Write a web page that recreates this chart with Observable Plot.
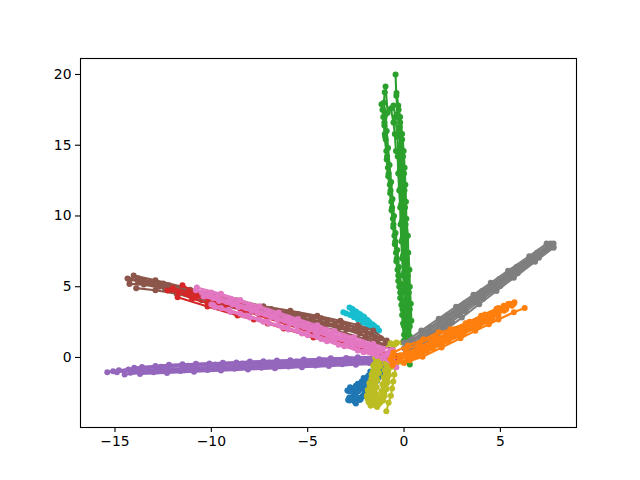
<!DOCTYPE html>
<html><head><meta charset="utf-8">
<script src="https://cdn.jsdelivr.net/npm/d3@7"></script>
<script src="https://cdn.jsdelivr.net/npm/@observablehq/plot@0.6"></script>
<style>html,body{margin:0;padding:0;background:#fff}svg{display:block}</style>
</head><body><div id="chart"></div>
<script>
const cyanTraces = [
 [[-2.83,3.53],[-2.65,3.38],[-2.45,3.2],[-2.25,3],[-2.05,2.8],[-1.8,2.5],[-1.55,2.25],[-1.3,1.9]],
 [[-3.15,3.2],[-3,3.1],[-2.8,3],[-2.6,2.85],[-2.4,2.7],[-2.15,2.45],[-1.9,2.2],[-1.6,1.95]],
 [[-2.7,3.45],[-2.5,3.25],[-2.3,3.08],[-2.1,2.9],[-1.9,2.65],[-1.65,2.35],[-1.4,2.1]],
 [[-2.7,3.1],[-2.45,2.9],[-2.2,2.7],[-1.95,2.45],[-1.7,2.15],[-1.45,1.85]]
];
const blueTraces = [
 [[-1.0,-0.6],[-1.3,-1.0],[-1.6,-1.4],[-1.9,-1.75],[-2.2,-2.1],[-2.5,-2.5],[-2.65,-2.75],[-2.83,-3.04]],
 [[-1.1,-0.4],[-1.5,-0.9],[-1.85,-1.3],[-2.2,-1.7],[-2.5,-2.0],[-2.75,-2.18],[-2.94,-2.33]],
 [[-1.0,-0.9],[-1.3,-1.4],[-1.6,-1.9],[-1.85,-2.3],[-2.15,-2.75],[-2.3,-3],[-2.5,-3.25]],
 [[-1.3,-0.7],[-1.65,-1.2],[-2.0,-1.65],[-2.3,-2.2],[-2.6,-2.65],[-2.85,-2.85]],
 [[-1.2,-0.9],[-1.45,-1.25],[-1.75,-1.6],[-2.05,-2],[-2.35,-2.35],[-2.6,-2.25],[-2.8,-2.1]],
 [[-1.1,-1.2],[-1.4,-1.65],[-1.7,-2.05],[-1.95,-2.55],[-2.25,-2.95],[-2.6,-3.05]],
 [[-1.4,-0.5],[-1.75,-1.0],[-2.1,-1.45],[-2.4,-1.85],[-2.7,-2.3]],
 [[-1.5,-1.2],[-1.8,-1.55],[-2.1,-1.95],[-2.4,-2.4],[-2.7,-2.85],[-2.9,-3]],
 [[-1.5,-1.6],[-1.8,-2],[-2.05,-2.4],[-2.35,-2.85],[-2.55,-3.15]],
 [[-1.7,-1.1],[-2,-1.5],[-2.3,-1.9],[-2.6,-2.2],[-2.85,-2.4]]
];
const purpleTraces = [
 [[-1,0.1],[-2.4,0.02],[-3.8,-0.06],[-5.2,-0.14],[-6.6,-0.21],[-8,-0.29],[-9.4,-0.37],[-10.8,-0.44],[-12.2,-0.52],[-13.6,-0.68],[-15.4,-1.05]],
 [[-1.4,0.05],[-3,-0.04],[-4.4,-0.12],[-5.9,-0.2],[-7.3,-0.27],[-8.7,-0.35],[-10.1,-0.42],[-11.5,-0.48],[-12.9,-0.6],[-14,-0.72]],
 [[-1.7,-0.09],[-3.1,-0.17],[-4.5,-0.25],[-5.9,-0.32],[-7.3,-0.4],[-8.7,-0.48],[-10.1,-0.56],[-11.5,-0.63],[-12.9,-0.71],[-14.3,-0.85],[-15.1,-0.98]],
 [[-1.4,-0.05],[-2.8,-0.13],[-4.2,-0.2],[-5.6,-0.28],[-7,-0.36],[-8.4,-0.43],[-9.8,-0.5],[-11.2,-0.58],[-12.6,-0.66],[-14,-0.78],[-14.8,-0.9]],
 [[-1.2,-0.22],[-2.6,-0.3],[-4,-0.37],[-5.4,-0.45],[-6.8,-0.53],[-8.2,-0.61],[-9.6,-0.69],[-11,-0.77],[-12.4,-0.84],[-13.8,-0.92],[-14.9,-1.05]],
 [[-2,-0.2],[-3.5,-0.29],[-5,-0.38],[-6.5,-0.47],[-8,-0.56],[-9.5,-0.65],[-11,-0.74],[-12.5,-0.83],[-14,-0.94]],
 [[-1.8,-0.4],[-3.2,-0.48],[-4.6,-0.56],[-6,-0.64],[-7.4,-0.72],[-8.8,-0.8],[-10.2,-0.88],[-11.6,-0.96],[-13,-1.04],[-14.5,-1.2]],
 [[-1.5,-0.32],[-3,-0.41],[-4.4,-0.49],[-5.8,-0.57],[-7.2,-0.65],[-8.6,-0.73],[-10,-0.82],[-11.4,-0.9],[-12.8,-0.98],[-14.2,-1.08]],
 [[-1.1,-0.44],[-2.5,-0.52],[-3.9,-0.61],[-5.3,-0.69],[-6.7,-0.77],[-8.1,-0.85],[-9.5,-0.93],[-10.9,-1.01],[-12.3,-1.09],[-13.7,-1.17]]
];
const brownTraces = [
 [[-0.9,1.2],[-1.6,1.9],[-2.4,2.3],[-3.3,2.6],[-4.5,2.95],[-5.9,3.3],[-7.3,3.62],[-8.7,4.05],[-10.1,4.5],[-11.5,5.0],[-12.9,5.45],[-14.03,5.8]],
 [[-1.2,1.35],[-2,1.95],[-2.9,2.3],[-4,2.65],[-5.2,2.95],[-6.6,3.3],[-8,3.72],[-9.4,4.15],[-10.8,4.6],[-12.2,5.1],[-13.5,5.45],[-14.35,5.58]],
 [[-1.5,1.45],[-2.3,2.08],[-3.2,2.42],[-4.3,2.78],[-5.5,3.08],[-6.9,3.42],[-8.3,3.82],[-9.7,4.3],[-11.1,4.78],[-12.5,5.22],[-13.8,5.6]],
 [[-0.8,1],[-1.7,1.6],[-2.6,2],[-3.6,2.35],[-4.8,2.7],[-6.2,3.05],[-7.6,3.45],[-9,3.9],[-10.4,4.35],[-11.8,4.8],[-13,5.2],[-14.25,5.5]],
 [[-1.4,1.1],[-2.3,1.72],[-3.3,2.12],[-4.4,2.5],[-5.8,2.88],[-7.2,3.28],[-8.6,3.7],[-10,4.15],[-11.4,4.62],[-12.7,5],[-13.8,5.3]],
 [[-1,0.9],[-2,1.5],[-3,1.95],[-4.1,2.3],[-5.5,2.7],[-6.9,3.1],[-8.3,3.55],[-9.7,4],[-11.1,4.45],[-12.4,4.85],[-13.5,5.15],[-14.25,5.2]],
 [[-0.6,0.6],[-2,1.3],[-3.5,1.9],[-5,2.4],[-6.5,2.8],[-8,3.2],[-9.3,3.65],[-10.5,4.05],[-11.8,4.5],[-12.9,4.75],[-13.9,4.9]]
];
const oliveTraces = [
 [[-0.1,1.05],[-0.4,1.05],[-0.7,1.0],[-1.2,0.4],[-1.5,0],[-1.55,-0.5],[-1.62,-1],[-1.7,-1.5],[-1.78,-2],[-1.85,-2.4],[-1.9,-2.9],[-1.73,-3.4]],
 [[-0.4,1.0],[-1.3,-0.2],[-1.38,-0.7],[-1.45,-1.2],[-1.52,-1.7],[-1.6,-2.2],[-1.65,-2.7],[-1.7,-3.1],[-1.73,-3.4]],
 [[-0.5,0.9],[-1.15,-0.1],[-1.22,-0.6],[-1.3,-1.1],[-1.38,-1.6],[-1.42,-2.1],[-1.45,-2.6],[-1.42,-3.0],[-1.4,-3.5]],
 [[-1.45,-0.3],[-1.5,-0.9],[-1.58,-1.4],[-1.65,-1.9],[-1.72,-2.5],[-1.78,-3.05]],
 [[-1.6,-0.6],[-1.68,-1.2],[-1.8,-1.8],[-1.88,-2.3],[-1.93,-2.7],[-1.85,-3.15]],
 [[-1.35,-0.4],[-1.42,-1],[-1.5,-1.5],[-1.56,-2],[-1.6,-2.5],[-1.6,-3],[-1.55,-3.35]],
 [[-0.7,0.3],[-0.95,-0.4],[-1.0,-0.9],[-1.05,-1.4],[-1.12,-1.9],[-1.18,-2.4],[-1.25,-2.9],[-1.32,-3.3]],
 [[-0.6,0.2],[-0.75,-0.5],[-0.82,-1],[-0.88,-1.5],[-0.95,-2],[-1.03,-2.5],[-1.12,-2.9],[-1.25,-3.2]],
 [[-0.85,-0.7],[-0.92,-1.2],[-1,-1.7],[-1.06,-2.2],[-1.12,-2.65],[-1.18,-3.1]],
 [[-0.8,-0.2],[-0.9,-0.8],[-0.95,-1.3],[-1.02,-1.8],[-1.08,-2.3],[-1.15,-2.75],[-1.22,-3.1]],
 [[-0.7,-0.7],[-0.78,-1.25],[-0.85,-1.75],[-0.92,-2.25],[-1,-2.7],[-1.08,-3.05]],
 [[-0.2,-0.3],[-0.44,-0.7],[-0.5,-1.2],[-0.56,-1.7],[-0.62,-2.2],[-0.68,-2.7],[-0.8,-3.2],[-0.92,-3.8]]
];
const redTraces = [
 [[-0.5,-0.15],[-1.9,0.48],[-3.3,1.1],[-4.7,1.72],[-6.1,2.34],[-7.5,2.97],[-8.3,3.32],[-9.6,3.9],[-10.8,4.3],[-12.27,4.73]],
 [[-0.7,-0.2],[-1.8,0.4],[-3.3,0.99],[-4.7,1.41],[-6.25,2.05],[-7.08,2.4],[-7.8,2.69],[-8.64,2.97],[-10.2,3.6],[-11.75,4.25]],
 [[-0.4,0.1],[-1.7,0.7],[-3,1.3],[-4.4,1.85],[-5.8,2.4],[-7.2,2.95],[-8.5,3.45],[-9.8,4],[-10.7,4.5],[-11.5,5.1]],
 [[-8.5,3.65],[-9.5,4.05],[-10.4,4.35],[-11.2,4.6],[-12,4.9]],
 [[-9.3,3.5],[-10.2,3.85],[-11,4.15],[-11.7,4.6]]
];
const pinkTraces = [
 [[-0.6,0.52],[-1.6,0.97],[-2.6,1.42],[-3.6,1.87],[-4.5,2.28],[-5.5,2.72],[-6.5,3.17],[-7.5,3.62],[-8.5,4.07],[-9.5,4.5],[-10.75,4.95]],
 [[-1.1,0.6],[-2.1,1.05],[-3.1,1.5],[-4.1,1.95],[-5,2.35],[-6,2.8],[-7,3.25],[-8,3.7],[-9,4.15],[-10,4.6],[-10.8,4.75]],
 [[-0.8,0.33],[-1.8,0.77],[-2.8,1.22],[-3.8,1.66],[-4.7,2.06],[-5.7,2.51],[-6.7,2.95],[-7.7,3.4],[-8.7,3.84],[-9.7,4.29],[-10.5,4.6]],
 [[-1.3,0.44],[-2.3,0.88],[-3.3,1.32],[-4.3,1.76],[-5.2,2.16],[-6.2,2.6],[-7.2,3.04],[-8.2,3.48],[-9.2,3.92],[-10.2,4.36]],
 [[-0.9,0.18],[-1.9,0.63],[-2.9,1.08],[-3.9,1.52],[-4.9,1.96],[-5.9,2.4],[-6.9,2.84],[-7.9,3.28],[-8.9,3.74],[-9.9,4.18]],
 [[-0.7,0.08],[-1.7,0.52],[-2.7,0.96],[-3.7,1.4],[-4.6,1.8],[-5.6,2.24],[-6.6,2.67],[-7.6,3.11],[-8.6,3.55],[-9.6,3.99],[-10.4,4.3]],
 [[-0.6,-0.12],[-1.6,0.28],[-2.6,0.69],[-3.6,1.1],[-4.5,1.46],[-5.5,1.87],[-6.5,2.28],[-7.5,2.68],[-8.5,3.09],[-9.5,3.5],[-10,3.75]],
 [[-1.1,0.01],[-2.1,0.43],[-3.1,0.85],[-4.1,1.27],[-5.1,1.69],[-6.1,2.11],[-7.1,2.53],[-8.1,2.95],[-9.1,3.37],[-9.9,3.7]],
 [[-0.4,-0.7],[-1.1,-0.05],[-2.1,0.37],[-3.1,0.79],[-4,1.15],[-5,1.57],[-6,1.98],[-7,2.4],[-8,2.82],[-9,3.22],[-9.8,3.55]],
 [[-0.5,-0.4],[-1.4,0.1],[-2.4,0.5],[-3.4,0.9],[-4.3,1.3],[-5.3,1.7],[-6.3,2.12],[-7.3,2.52],[-8.3,2.97]]
];
const greenTraces = [
 [[0.1,1.0],[0.0,2.2],[-0.08,3.4],[-0.2,4.6],[-0.3,5.8],[-0.38,7],[-0.46,8.2],[-0.55,9.4],[-0.62,10.6],[-0.7,11.8],[-0.8,13],[-0.88,14.2],[-0.95,15.4],[-1.02,16.6],[-1.17,17.9]],
 [[0.15,1.5],[0.05,2.8],[-0.05,4],[-0.15,5.2],[-0.27,6.4],[-0.35,7.6],[-0.44,8.8],[-0.52,10],[-0.6,11.2],[-0.67,12.4],[-0.75,13.6],[-0.83,14.8],[-0.9,16],[-0.95,17.2],[-1.05,18],[-1,18.75]],
 [[0.0,1.6],[-0.1,3],[-0.2,4.2],[-0.3,5.4],[-0.4,6.8],[-0.48,8],[-0.56,9.2],[-0.65,10.4],[-0.72,11.6],[-0.82,12.8],[-0.9,14],[-0.98,15.6],[-1.02,16.4],[-0.85,17.3],[-0.96,19.15]],
 [[0,1.2],[-0.05,2.4],[-0.14,3.7],[-0.25,5],[-0.34,6.2],[-0.42,7.4],[-0.5,8.6],[-0.58,9.8],[-0.66,11],[-0.74,12.2],[-0.84,13.4],[-0.92,14.6],[-1,15.8],[-1.08,17],[-1.12,17.5]],
 [[0.3,-0.5],[0.25,1],[0.3,2.2],[0.3,3.4],[0.25,4.6],[0.2,5.8],[0.15,7],[0.1,8.2],[0.08,9.4],[0.05,10.6],[0.02,11.8],[0,13],[-0.05,14.2],[-0.1,15.4],[-0.2,16.6],[-0.3,17.8],[-0.39,18.7]],
 [[0.15,1.6],[0.2,2.8],[0.18,4],[0.12,5.2],[0.07,6.4],[0.02,7.6],[-0.02,8.8],[-0.05,10],[-0.1,11.2],[-0.12,12.4],[-0.17,13.6],[-0.2,14.8],[-0.25,16],[-0.33,17.2],[-0.4,18.5],[-0.44,20]],
 [[0.2,1.2],[0.1,2.4],[0.12,3.6],[0.05,4.9],[0,6],[-0.05,7.2],[-0.08,8.4],[-0.12,9.6],[-0.15,10.8],[-0.18,12],[-0.22,13.2],[-0.28,14.4],[-0.35,15.6],[-0.45,17],[-0.55,17.8]],
 [[0.22,1.8],[0.22,3.1],[0.2,4.3],[0.17,5.5],[0.12,6.7],[0.08,7.9],[0.05,9.1],[0,10.3],[-0.03,11.5],[-0.06,12.7],[-0.1,13.9],[-0.15,15.1],[-0.22,16.3],[-0.28,17.5]],
 [[0.1,2.2],[0.07,3.4],[0.02,4.6],[-0.05,5.8],[-0.1,7],[-0.14,8.2],[-0.18,9.4],[-0.2,10.6],[-0.25,11.8],[-0.3,13],[-0.33,14.2],[-0.42,14.6],[-0.48,15.8],[-0.55,16.6],[-0.68,17.6]],
 [[0.3,1.5],[0.38,2.6],[0.35,3.8],[0.3,5],[0.28,6.2],[0.22,7.4],[0.2,8.6],[0.12,9.8],[0.1,11],[0.07,12.2],[0.03,13.4],[-0.02,14.6],[-0.1,15.8],[-0.2,17]]
];
const grayTraces = [
 [[0,1.05],[0.9,1.9],[1.8,2.74],[2.7,3.59],[3.6,4.43],[4.5,5.28],[5.4,6.13],[6.5,7.16],[7.4,8.05]],
 [[0.45,1.28],[1.35,2.13],[2.25,2.99],[3.15,3.84],[4.05,4.7],[4.95,5.55],[5.85,6.41],[6.9,7.4],[7.6,8.05]],
 [[0.2,1],[1.1,1.85],[2,2.7],[2.9,3.55],[3.8,4.4],[4.7,5.25],[5.6,6.1],[6.6,7.05],[7.5,7.95]],
 [[0,0.65],[0.9,1.51],[1.8,2.38],[2.7,3.24],[3.6,4.11],[4.5,4.97],[5.4,5.83],[6.5,6.89],[7.76,8.05]],
 [[0.45,0.89],[1.35,1.77],[2.25,2.64],[3.15,3.52],[4.05,4.4],[4.95,5.28],[5.85,6.15],[6.9,7.18],[7.7,7.95]],
 [[0.25,0.5],[1.15,1.4],[2.05,2.3],[2.95,3.22],[3.85,4.12],[4.75,5],[5.65,5.9],[6.7,6.95],[7.6,7.85]],
 [[0.1,0.35],[1,1.24],[1.9,2.13],[2.8,3.02],[3.7,3.91],[4.6,4.8],[5.5,5.7],[6.6,6.78],[7.7,7.87]],
 [[0.5,0.55],[1.4,1.45],[2.3,2.35],[3.2,3.25],[4.1,4.15],[5,5.05],[5.9,5.95],[7,7.05],[7.76,7.8]],
 [[0.2,0.1],[0.8,0.72],[1.7,1.65],[2.5,2.48]],
 [[0.3,0],[1.2,0.95],[2.1,1.9],[3,2.82],[3.9,3.76],[4.8,4.7],[5.7,5.63],[6.8,6.77],[7.76,7.76]]
];
const orangeTraces = [
 [[-0.55,0.35],[0.2,0.85],[1,1.28],[1.8,1.78],[2.6,2],[3.4,2.52],[4.2,3.03],[5.17,3.66],[5.73,3.9]],
 [[0.1,0.55],[0.8,1],[1.6,1.5],[2.4,2.0],[3.2,2.42],[4,2.95],[4.8,3.45],[5.4,3.78]],
 [[0.9,0.7],[1.7,1.3],[2.5,1.88],[3.3,2.4],[4.1,2.95],[4.9,3.5],[5.5,3.8]],
 [[-0.6,0.1],[0.6,0.55],[1.4,1.07],[2.2,1.6],[3,2.1],[3.8,2.65],[4.6,3.15],[5.2,3.55],[5.7,3.8]],
 [[-0.2,0.15],[0.8,0.75],[1.6,1.28],[2.4,1.82],[3.2,2.3],[4,2.85],[4.8,3.35]],
 [[0.4,0.35],[1.2,0.88],[2,1.4],[2.8,1.95],[3.6,2.48],[4.4,3],[5,3.4]],
 [[-0.7,-0.1],[0.2,0.13],[1,0.66],[1.8,1.19],[2.6,1.72],[3.4,2.24],[4.2,2.77],[5,3.3],[5.6,3.65]],
 [[0.6,0.25],[1.4,0.82],[2.2,1.32],[3,1.88],[3.8,2.4],[4.6,2.92],[5.3,3.4]],
 [[-0.2,-0.05],[0.7,0.4],[1.5,0.95],[2.3,1.48],[3.1,2.02],[3.9,2.55],[4.7,3.08]],
 [[-0.6,-0.35],[0.5,0.18],[1.3,0.71],[2.1,1.25],[2.9,1.78],[3.7,2.31],[4.5,2.84],[5.2,3.3]],
 [[0.3,-0.2],[1.2,0.45],[2,1.02],[2.8,1.55],[3.6,2.08],[4.3,2.6]],
 [[0.7,0.08],[1.5,0.62],[2.3,1.15],[3.1,1.68],[3.9,2.2],[4.6,2.68]],
 [[-0.6,-0.55],[0.2,-0.12],[1,0.42],[1.8,0.96],[2.6,1.49],[3.4,2.03],[4.2,2.56],[4.9,3]],
 [[0,-0.4],[0.96,0.05],[1.95,0.7],[2.93,1.36],[3.7,1.88],[4.4,2.35],[4.9,2.68],[5.7,3.2],[6.26,3.5]]
];

const series = [
  [cyanTraces, "#17becf"], [blueTraces, "#1f77b4"], [purpleTraces, "#9467bd"],
  [brownTraces, "#8c564b"], [oliveTraces, "#bcbd22"], [redTraces, "#d62728"],
  [pinkTraces, "#e377c2"], [greenTraces, "#2ca02c"], [grayTraces, "#7f7f7f"],
  [orangeTraces, "#ff7f0e"]
];
const marks = [];
for (const [traces, color] of series) {
  for (const t of traces) {
    marks.push(Plot.line(t, {x: d => d[0], y: d => d[1], stroke: color, strokeWidth: 2.1, strokeLinejoin: "round"}));
    marks.push(Plot.dot(t, {x: d => d[0], y: d => d[1], r: 3, fill: color, stroke: "none"}));
  }
}
const fmt = d => String(d).replace("-", "\u2212");
const xTicks = [-15, -10, -5, 0, 5];
const yTicks = [0, 5, 10, 15, 20];
const chart = Plot.plot({
  width: 640, height: 480,
  marginLeft: 80, marginRight: 64, marginTop: 58, marginBottom: 53,
  style: {fontFamily: "'DejaVu Sans'", fontSize: "13.9px", color: "black", background: "white"},
  x: {domain: [-16.79, 8.95], label: null},
  y: {domain: [-4.95, 21.13], label: null},
  marks: [
    ...marks,
    Plot.frame({stroke: "black", strokeWidth: 1.1}),
    Plot.axisX({ticks: xTicks, tickFormat: fmt, tickSize: 5, tickPadding: 4, strokeWidth: 1.1, label: null}),
    Plot.axisY({ticks: yTicks, tickFormat: fmt, tickSize: 5, tickPadding: 4, strokeWidth: 1.1, label: null})
  ]
});
document.getElementById("chart").appendChild(chart);
</script></body></html>
